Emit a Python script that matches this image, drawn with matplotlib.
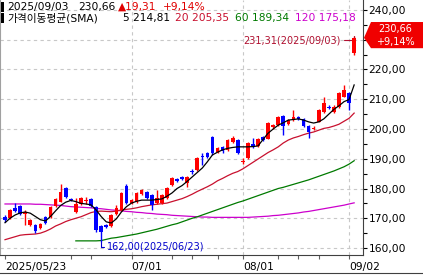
import matplotlib
matplotlib.use('Agg')
import matplotlib.pyplot as plt
from matplotlib.patches import Polygon, Rectangle
from matplotlib.transforms import blended_transform_factory
from matplotlib.ticker import FixedLocator, MultipleLocator, FuncFormatter
import numpy as np

plt.rcParams['font.family'] = ['DejaVu Sans', 'Noto Sans CJK KR']

# trading days shown on the chart
dates = ['2025/05/23', '2025/05/27', '2025/05/28', '2025/05/29', '2025/05/30',
         '2025/06/02', '2025/06/03', '2025/06/04', '2025/06/05', '2025/06/06',
         '2025/06/09', '2025/06/10', '2025/06/11', '2025/06/12', '2025/06/13',
         '2025/06/16', '2025/06/17', '2025/06/18', '2025/06/20',
         '2025/06/23', '2025/06/24', '2025/06/25', '2025/06/26', '2025/06/27',
         '2025/06/30', '2025/07/01', '2025/07/02', '2025/07/03',
         '2025/07/07', '2025/07/08', '2025/07/09', '2025/07/10', '2025/07/11',
         '2025/07/14', '2025/07/15', '2025/07/16', '2025/07/17', '2025/07/18',
         '2025/07/21', '2025/07/22', '2025/07/23', '2025/07/24', '2025/07/25',
         '2025/07/28', '2025/07/29', '2025/07/30', '2025/07/31', '2025/08/01',
         '2025/08/04', '2025/08/05', '2025/08/06', '2025/08/07', '2025/08/08',
         '2025/08/11', '2025/08/12', '2025/08/13', '2025/08/14', '2025/08/15',
         '2025/08/18', '2025/08/19', '2025/08/20', '2025/08/21', '2025/08/22',
         '2025/08/25', '2025/08/26', '2025/08/27', '2025/08/28', '2025/08/29',
         '2025/09/02', '2025/09/03']

opens = [170.4, 170.1, 173.3, 174.1, 171.5, 167.9, 167.7, 166.6, 170.4, 170.4,
         174.1, 175.6, 180.2, 176.6, 172.1, 174.8, 175.9, 176.5, 173.8,
         167.4, 167.6, 167.4, 171.4, 172.8, 180.8, 175.2, 175.5, 178.2,
         178.8, 177.8, 175.1, 175.1, 176.8, 181.2, 183.2, 183.7, 181.7, 185.9,
         186.2, 190.8, 191.8, 197.4, 192.4, 194.1, 192.9, 195.7, 196.3, 189.0,
         190.1, 194.8, 194.3, 197.4, 196.8, 200.6, 201.3, 204.4, 201.7, 203.0,
         204.1, 203.4, 201.0, 200.0, 202.5, 205.8, 207.5, 205.8, 207.5, 210.9,
         212.0, 225.5]
highs = [171.0, 173.2, 175.0, 174.4, 172.8, 169.8, 168.2, 168.3, 170.7, 174.1,
         176.9, 181.5, 180.6, 176.9, 176.8, 177.2, 177.0, 176.8, 174.2,
         167.8, 168.2, 171.5, 174.5, 178.8, 181.5, 176.6, 178.9, 179.9,
         179.2, 178.1, 179.5, 178.1, 180.6, 183.9, 183.6, 184.2, 184.3, 186.5,
         190.5, 191.8, 192.2, 197.8, 193.9, 194.4, 196.6, 197.5, 196.6, 190.2,
         195.6, 197.0, 196.9, 197.7, 202.3, 201.7, 204.5, 204.8, 203.4, 206.4,
         204.5, 203.8, 201.3, 201.0, 206.8, 210.6, 208.0, 207.9, 212.6, 214.8,
         212.4, 231.31]
lows = [168.8, 169.8, 172.2, 171.0, 167.7, 167.5, 164.9, 166.3, 168.1, 170.2,
        173.8, 175.3, 176.8, 175.7, 171.8, 174.5, 174.8, 173.8, 165.5,
        162.0, 166.6, 167.1, 171.2, 172.5, 174.8, 174.9, 175.2, 177.9,
        176.5, 172.8, 174.8, 174.8, 176.5, 181.0, 182.2, 182.8, 180.6, 185.0,
        185.8, 187.9, 190.3, 191.4, 192.0, 191.8, 192.6, 195.4, 191.5, 188.3,
        189.8, 193.5, 194.0, 196.0, 196.5, 199.9, 201.0, 198.0, 201.4, 202.7,
        203.0, 200.7, 196.9, 199.5, 202.2, 205.5, 206.6, 205.5, 207.2, 210.6,
        206.4, 224.8]
closes = [169.4, 172.8, 172.6, 171.4, 172.0, 169.3, 165.6, 168.0, 168.4, 173.8,
          176.5, 178.8, 177.1, 176.0, 174.8, 176.8, 176.3, 174.1, 166.0,
          165.4, 167.1, 171.1, 173.4, 178.5, 175.1, 176.2, 178.5, 179.5,
          176.8, 174.5, 176.8, 177.8, 180.2, 183.5, 182.6, 183.2, 184.0, 185.5,
          190.1, 190.5, 190.7, 191.8, 193.5, 192.6, 196.3, 196.9, 191.9, 189.3,
          195.2, 194.4, 196.5, 196.3, 201.9, 201.3, 204.1, 201.0, 203.0, 204.1,
          203.3, 201.0, 199.1, 200.4, 206.4, 208.6, 207.0, 207.5, 212.0, 213.1,
          208.6, 230.66]

sma5 = [168.5, 170.0, 171.1, 171.8, 172.1, 171.7, 170.6, 169.5, 169.1, 170.6,
        172.5, 174.3, 175.4, 176.0, 175.6, 175.0, 174.8, 174.5, 172.8,
        170.6, 168.8, 168.4, 169.8, 172.1, 173.9, 175.1, 175.7, 176.1,
        176.1, 176.1, 176.3, 176.5, 177.4, 178.5, 180.0, 181.0, 182.4, 183.9,
        185.4, 186.9, 189.0, 191.3, 192.2, 193.0, 193.5, 193.8, 194.0, 194.0,
        194.0, 194.1, 194.3, 196.5, 198.6, 200.0, 201.3, 202.1, 203.0, 203.2,
        203.4, 203.0, 202.4, 202.0, 202.4, 203.4, 205.0, 206.6, 207.8, 209.2,
        209.9, 214.81]
sma20 = [162.8, 163.3, 163.8, 164.3, 164.5, 164.6, 164.7, 165.0, 165.6, 166.4,
         167.4, 168.1, 168.9, 169.5, 170.0, 170.5, 171.2, 171.9, 172.3,
         172.4, 172.3, 172.2, 172.4, 172.8, 173.0, 173.2, 173.5, 173.9,
         174.2, 174.5, 174.7, 174.9, 175.1, 175.6, 176.1, 176.6, 177.3, 178.1,
         179.0, 179.8, 180.6, 181.5, 182.6, 183.4, 184.3, 185.1, 185.7, 186.6,
         187.7, 188.8, 189.9, 191.0, 192.1, 193.0, 194.0, 195.3, 196.3, 197.0,
         197.5, 198.1, 198.6, 199.0, 199.6, 200.2, 200.5, 201.0, 201.6, 202.6,
         203.6, 205.35]
sma60 = [np.nan] * 14 + [
         162.4, 162.4, 162.4, 162.4, 162.4,
         162.5, 162.9, 163.3, 163.5, 163.8, 164.1, 164.4, 164.7, 165.1,
         165.5, 165.9, 166.3, 166.8, 167.3, 167.8, 168.2, 168.8, 169.4, 170.0,
         170.5, 171.1, 171.7, 172.3, 172.9, 173.5, 174.1, 174.7, 175.3, 175.8,
         176.4, 177.0, 177.6, 178.2, 178.8, 179.4, 180.0, 180.4, 180.9, 181.4,
         181.9, 182.4, 182.9, 183.5, 184.1, 184.7, 185.3, 185.9, 186.6, 187.3,
         188.2, 189.34]
sma120 = [174.8, 174.8, 174.8, 174.8, 174.8, 174.8, 174.7, 174.7, 174.6, 174.5,
          174.4, 174.3, 174.1, 173.9, 173.8, 173.7, 173.6, 173.5, 173.3,
          173.2, 173.0, 172.8, 172.7, 172.5, 172.3, 172.2, 172.0, 171.9,
          171.7, 171.6, 171.4, 171.3, 171.2, 171.0, 170.9, 170.8, 170.7, 170.6,
          170.5, 170.4, 170.4, 170.3, 170.3, 170.3, 170.3, 170.3, 170.3, 170.3,
          170.3, 170.4, 170.5, 170.6, 170.7, 170.9, 171.0, 171.2, 171.4, 171.6,
          171.8, 172.1, 172.3, 172.6, 172.9, 173.2, 173.5, 173.8, 174.1, 174.4,
          174.8, 175.18]

label_dates = ['2025/05/23', '2025/07/01', '2025/08/01', '2025/09/02']
label_texts = ['2025/05/23', '07/01', '08/01', '09/02']
minor_dates = ['2025/06/12', '2025/06/18', '2025/07/14', '2025/07/18',
               '2025/07/25', '2025/08/12', '2025/08/18', '2025/08/22']

last_change = 19.31
last_pct = 9.14

UP = '#FF0000'
DOWN = '#0000FF'
C20 = '#C8102E'
C60 = '#007A00'
C120 = '#CC00CC'
GRID = '#C8C8C8'


def kfmt(v):
    """ number with comma decimal like the Korean HTS """
    return f'{v:.2f}'.replace('.', ',')


def px(x, y):
    """ figure pixel -> figure fraction """
    return x / 423, 1 - y / 278


fig = plt.figure(figsize=(4.23, 2.78), dpi=100)
fig.patch.set_facecolor('white')
ax = fig.add_axes([0.0, 23 / 278, 363 / 423, 255 / 278])

x = np.arange(len(closes))
o = np.array(opens); h = np.array(highs); l = np.array(lows); c = np.array(closes)
colors = np.where(c >= o, UP, DOWN)
last = c[-1]

ax.vlines(x, l, h, colors=colors, linewidth=1, zorder=3)
ax.bar(x, np.maximum(np.abs(c - o), 0.3), bottom=np.minimum(o, c), width=0.72,
       color=colors, linewidth=0, zorder=4)

ax.plot(x, sma120, color=C120, linewidth=0.9, zorder=2)
ax.plot(x, sma60, color=C60, linewidth=0.9, zorder=2)
ax.plot(x, sma20, color=C20, linewidth=0.9, zorder=2)
ax.plot(x, sma5, color='black', linewidth=0.9, zorder=5)

ax.set_xlim(-0.99, 70.75)
ax.set_ylim(157.65, 243.36)

# grid
for v in range(160, 241, 10):
    ax.axhline(v, color=GRID, linewidth=0.8, dashes=(3, 3), zorder=1)
for d in label_dates[1:]:
    ax.axvline(dates.index(d), color=GRID, linewidth=0.8, dashes=(3, 3), zorder=1)

# price axis (the label under the last-price box is hidden)
ax.yaxis.tick_right()
ax.yaxis.set_major_locator(MultipleLocator(10))
ax.yaxis.set_minor_locator(MultipleLocator(5))
ax.yaxis.set_major_formatter(FuncFormatter(lambda v, p: '' if abs(v - last) < 5 else kfmt(v)))
ax.tick_params(axis='y', which='both', direction='out', length=3, width=0.8,
               pad=1, labelsize=7.7, colors='black')
ax.xaxis.set_major_locator(FixedLocator([dates.index(d) for d in label_dates]))
ax.xaxis.set_minor_locator(FixedLocator([dates.index(d) for d in minor_dates]))
ax.set_xticklabels(label_texts, ha='left')
ax.tick_params(axis='x', which='both', direction='out', length=3, width=0.8,
               pad=2, labelsize=7.7, colors='#606060', labelcolor='black')
ax.spines['top'].set_visible(False)
ax.spines['left'].set_color('#A0A0A0')
ax.spines['right'].set_color('#404040')
ax.spines['bottom'].set_color('#404040')

# high / low markers
i_hi = int(np.argmax(h)); i_lo = int(np.argmin(l))
ax.annotate(f'{kfmt(h[i_hi])}({dates[i_hi]})', xy=(i_hi, h[i_hi]),
            xytext=(i_hi - 2.6, h[i_hi] - 1.5), ha='right', va='center',
            fontsize=7, color='#B01030',
            arrowprops=dict(arrowstyle='-', color='#B01030', lw=0.8,
                            shrinkA=0, shrinkB=0, connectionstyle='angle,angleA=0,angleB=90'))
ax.annotate(f'{kfmt(l[i_lo])}({dates[i_lo]})', xy=(i_lo, l[i_lo]),
            xytext=(i_lo + 1.2, l[i_lo] - 1.6), ha='left', va='center',
            fontsize=7, color='#0000CC',
            arrowprops=dict(arrowstyle='-', color='#0000CC', lw=0.8,
                            shrinkA=0, shrinkB=0, connectionstyle='angle,angleA=0,angleB=90'))

# last price box
tr = blended_transform_factory(fig.transFigure, ax.transData)
box = Polygon([(364 / 423, last), (371 / 423, last + 5.3), (1.0, last + 5.3),
               (1.0, last - 3.5), (371 / 423, last - 3.5)],
              closed=True, transform=tr, facecolor='#F00000', edgecolor='none',
              zorder=10, clip_on=False)
fig.add_artist(box)
fig.text(395 / 423, last + 2.9, kfmt(last), transform=tr, ha='center', va='center',
         fontsize=7, color='white', zorder=11)
fig.text(395 / 423, last - 1.5, f'+{kfmt(last_pct)}%', transform=tr, ha='center',
         va='center', fontsize=7, color='white', zorder=11)

# header
fig.add_artist(Rectangle(px(1, 12), 3 / 423, 10 / 278, transform=fig.transFigure,
                         facecolor='black', edgecolor='none'))
fig.add_artist(Rectangle(px(1, 23), 3 / 423, 10 / 278, transform=fig.transFigure,
                         facecolor='black', edgecolor='none'))
fs = 7.7
fig.text(*px(7, 7), dates[-1], fontsize=fs, va='center')
fig.text(*px(78, 7), kfmt(last), fontsize=fs, va='center')
fig.text(*px(118, 7), '\u25b2' + kfmt(last_change), fontsize=fs, va='center', color='#E00000')
fig.text(*px(163, 7), f'+{kfmt(last_pct)}%', fontsize=fs, va='center', color='#E00000')
fig.text(*px(7, 18), '가격이동평균(SMA)', fontsize=fs, va='center')
fig.text(*px(123, 18), f'5 {kfmt(sma5[-1])}', fontsize=fs, va='center')
fig.text(*px(175, 18), f'20 {kfmt(sma20[-1])}', fontsize=fs, va='center', color=C20)
fig.text(*px(235, 18), f'60 {kfmt(sma60[-1])}', fontsize=fs, va='center', color=C60)
fig.text(*px(295, 18), f'120 {kfmt(sma120[-1])}', fontsize=fs, va='center', color=C120)

# bottom frame line of the date strip
fig.add_artist(plt.Line2D([0, 1], [5 / 278, 5 / 278], color='#404040', linewidth=0.8))

fig.savefig('out.png', dpi=100)
